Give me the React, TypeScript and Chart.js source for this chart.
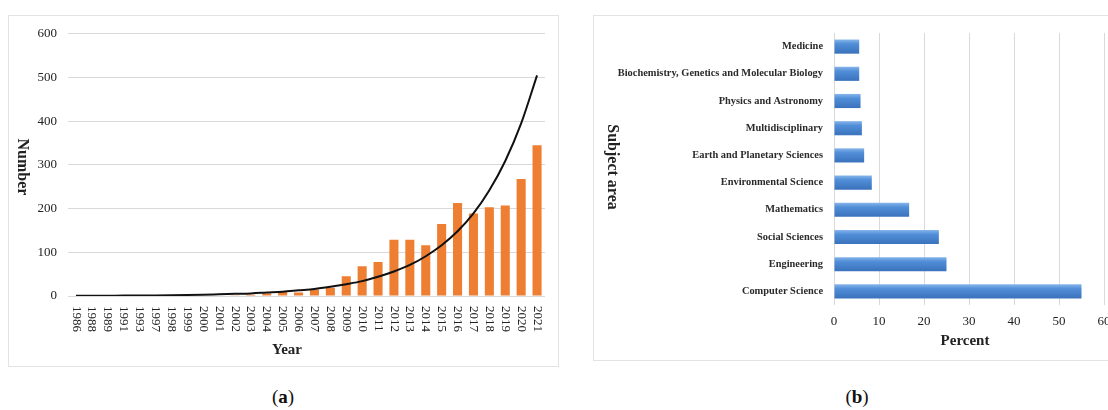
import React, { useEffect, useRef } from "react";
import { Chart, registerables } from "chart.js";

Chart.register(...registerables);

// ---------- Data: panel (a) ----------
const years = [
  "1986", "1988", "1989", "1991", "1993", "1997", "1998", "1999",
  "2000", "2001", "2002", "2003", "2004", "2005", "2006", "2007",
  "2008", "2009", "2010", "2011", "2012", "2013", "2014", "2015",
  "2016", "2017", "2018", "2019", "2020", "2021",
];
const publications = [
  1, 1, 1, 1, 1, 1, 1, 1,
  1, 1, 2, 3, 6, 10, 8, 15,
  19, 45, 68, 78, 129, 129, 116, 165,
  213, 189, 203, 207, 268, 345,
];
// exponential trend line
const trendValues = [
  0.4, 0.5, 0.7, 0.9, 1.1, 1.4, 1.8, 2.3,
  3, 4, 5, 6, 8, 10, 13, 16,
  21, 27, 34, 44, 56, 71, 91, 116,
  148, 189, 242, 309, 395, 505,
];
const yMaxA = 600;
const yStepA = 100;

// ---------- Data: panel (b) ----------
const subjectAreas = [
  "Medicine",
  "Biochemistry, Genetics and Molecular Biology",
  "Physics and Astronomy",
  "Multidisciplinary",
  "Earth and Planetary Sciences",
  "Environmental Science",
  "Mathematics",
  "Social Sciences",
  "Engineering",
  "Computer Science",
];
const subjectPercents = [5.6, 5.6, 5.9, 6.2, 6.7, 8.4, 16.7, 23.3, 25.0, 55.0];
const xMaxB = 60;
const xStepB = 10;

const SERIF = '"Liberation Serif", "DejaVu Serif", serif';
const TEXT = "#222";
const GRID = "#d9d9d9";

// ---------- Plugins drawing clockwise-rotated labels & titles ----------
const textPluginA = {
  id: "textA",
  afterDraw(chart: any) {
    const { ctx, chartArea, scales } = chart;
    const xs = scales.x;
    ctx.save();
    ctx.fillStyle = TEXT;
    ctx.font = `13px ${SERIF}`;
    ctx.textAlign = "left";
    ctx.textBaseline = "middle";
    years.forEach((label, i) => {
      const px = xs.getPixelForValue(i);
      ctx.save();
      ctx.translate(px, chartArea.bottom + 10);
      ctx.rotate(Math.PI / 2);
      ctx.fillText(label, 0, 0);
      ctx.restore();
    });
    ctx.font = `bold 15px ${SERIF}`;
    ctx.textAlign = "center";
    ctx.fillText("Year", 279, 335);
    ctx.font = `bold 16px ${SERIF}`;
    ctx.save();
    ctx.translate(14, 152);
    ctx.rotate(Math.PI / 2);
    ctx.fillText("Number", 0, 0);
    ctx.restore();
    ctx.restore();
  },
};

const textPluginB = {
  id: "textB",
  afterDraw(chart: any) {
    const { ctx } = chart;
    ctx.save();
    ctx.fillStyle = TEXT;
    ctx.textAlign = "center";
    ctx.textBaseline = "middle";
    ctx.font = `bold 15px ${SERIF}`;
    ctx.fillText("Percent", 372, 326);
    ctx.font = `bold 16px ${SERIF}`;
    ctx.save();
    ctx.translate(19, 152);
    ctx.rotate(Math.PI / 2);
    ctx.fillText("Subject area", 0, 0);
    ctx.restore();
    ctx.restore();
  },
};

function blueBar(context: any) {
  const chart = context.chart;
  const ys = chart.scales && chart.scales.y;
  if (!ys || context.dataIndex === undefined) return "#4A89D4";
  const c = ys.getPixelForValue(context.dataIndex);
  if (!isFinite(c)) return "#4A89D4";
  const g = chart.ctx.createLinearGradient(0, c - 7, 0, c + 7);
  g.addColorStop(0, "#86B5EA");
  g.addColorStop(0.3, "#528FD8");
  g.addColorStop(1, "#3A72BC");
  return g;
}

function configA(): any {
  return {
    type: "bar",
    data: {
      labels: years,
      datasets: [
        {
          type: "line",
          data: trendValues,
          borderColor: "#111",
          borderWidth: 2,
          pointRadius: 0,
          cubicInterpolationMode: "monotone",
          order: 0,
        },
        {
          type: "bar",
          data: publications,
          backgroundColor: "#EE7E32",
          barPercentage: 0.57,
          categoryPercentage: 1,
          order: 1,
        },
      ],
    },
    options: {
      responsive: false,
      animation: false,
      layout: { padding: { top: 17, right: 14, left: 0, bottom: 0 } },
      plugins: { legend: { display: false }, tooltip: { enabled: false } },
      scales: {
        x: {
          grid: { display: false, drawTicks: false },
          border: { display: false },
          ticks: { display: false },
          afterFit: (s: any) => {
            s.height = 71;
          },
        },
        y: {
          min: 0,
          max: yMaxA,
          ticks: {
            stepSize: yStepA,
            padding: 11,
            font: { family: SERIF, size: 13 },
            color: TEXT,
          },
          grid: { color: GRID, drawTicks: false },
          border: { display: false },
          afterFit: (s: any) => {
            s.width = 60;
          },
        },
      },
    },
    plugins: [textPluginA],
  };
}

function configB(): any {
  return {
    type: "bar",
    data: {
      labels: subjectAreas,
      datasets: [
        {
          data: subjectPercents,
          backgroundColor: blueBar,
          barPercentage: 0.52,
          categoryPercentage: 1,
        },
      ],
    },
    options: {
      indexAxis: "y",
      responsive: false,
      animation: false,
      layout: { padding: { top: 18, right: 29, left: 0, bottom: 0 } },
      plugins: { legend: { display: false }, tooltip: { enabled: false } },
      scales: {
        x: {
          min: 0,
          max: xMaxB,
          ticks: {
            stepSize: xStepB,
            padding: 9,
            font: { family: SERIF, size: 13 },
            color: TEXT,
          },
          grid: { color: GRID, drawTicks: false },
          border: { display: false },
          afterFit: (s: any) => {
            s.height = 56;
          },
        },
        y: {
          grid: { display: false, drawTicks: false },
          border: { display: false },
          ticks: {
            padding: 11,
            font: { family: SERIF, size: 10.4, weight: "bold" },
            color: "#2a2a2a",
          },
          afterFit: (s: any) => {
            s.width = 241;
          },
        },
      },
    },
    plugins: [textPluginB],
  };
}

function ChartCanvas(props: {
  make: () => any;
  left: number;
  top: number;
  width: number;
  height: number;
}) {
  const ref = useRef<HTMLCanvasElement>(null);
  useEffect(() => {
    const chart = new Chart(ref.current as HTMLCanvasElement, props.make());
    return () => chart.destroy();
  }, []);
  return (
    <canvas
      ref={ref}
      width={props.width}
      height={props.height}
      style={{
        position: "absolute",
        left: props.left,
        top: props.top,
        width: props.width,
        height: props.height,
      }}
    />
  );
}

const captionStyle = (cx: number): React.CSSProperties => ({
  position: "absolute",
  left: cx - 40,
  width: 80,
  top: 386,
  textAlign: "center",
  fontFamily: SERIF,
  fontSize: 19,
  lineHeight: "22px",
  color: "#111",
});

export default function App() {
  return (
    <div
      style={{
        position: "absolute",
        left: 0,
        top: 0,
        width: 1108,
        height: 410,
        overflow: "hidden",
        background: "#fff",
      }}
    >
      <ChartCanvas make={configA} left={8} top={15} width={551} height={352} />
      <div
        style={{
          position: "absolute",
          left: 8,
          top: 15,
          width: 551,
          height: 352,
          boxSizing: "border-box",
          border: "1px solid #e3e3e3",
        }}
      />
      <ChartCanvas make={configB} left={593} top={15} width={540} height={346} />
      <div
        style={{
          position: "absolute",
          left: 593,
          top: 15,
          width: 560,
          height: 346,
          boxSizing: "border-box",
          border: "1px solid #e3e3e3",
        }}
      />
      <div style={captionStyle(283)}>
        (<b>a</b>)
      </div>
      <div style={captionStyle(857)}>
        (<b>b</b>)
      </div>
    </div>
  );
}
